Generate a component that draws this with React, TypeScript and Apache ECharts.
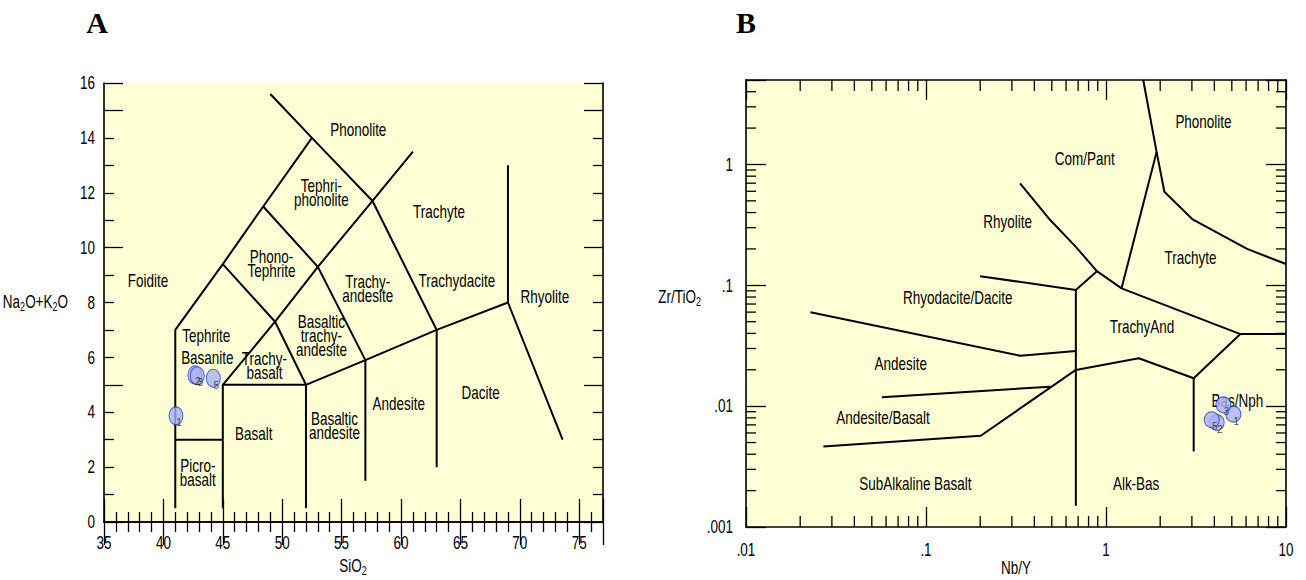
import React, { useEffect, useRef } from "react";
import * as echarts from "echarts";

// ---------- Panel A: TAS diagram ----------
const tasBoundaries: [number, number][][] = [
  [[41, 0.5], [41, 7], [45, 9.4], [48.4, 11.5], [52.5, 14], [49, 15.6]],
  [[41, 3], [45, 3]],
  [[45, 0.5], [45, 5], [49.4, 7.3], [53, 9.3], [57.6, 11.7], [61, 13.5]],
  [[45, 5], [52, 5], [57, 5.9], [63, 7], [69, 8], [69, 13]],
  [[52, 0.5], [52, 5], [49.4, 7.3], [45, 9.4]],
  [[57, 1.5], [57, 5.9], [53, 9.3], [48.4, 11.5]],
  [[63, 2], [63, 7], [57.6, 11.7], [52.5, 14]],
  [[69, 8], [73.6, 3]],
];
const tasFieldNames = [
  "Phonolite", "Tephri-\nphonolite", "Trachyte", "Phono-\nTephrite", "Foidite",
  "Trachy-\nandesite", "Trachydacite", "Rhyolite", "Tephrite", "Basanite",
  "Trachy-\nbasalt", "Basaltic\ntrachy-\nandesite", "Dacite", "Andesite",
  "Basaltic\nandesite", "Basalt", "Picro-\nbasalt",
];
const tasFieldX = [56.4, 53.3, 63.2, 49.1, 38.7, 57.2, 64.7, 72.1, 43.6, 43.7, 48.5, 53.3, 66.7, 59.8, 54.4, 47.6, 42.9];
const tasFieldY = [14.3, 12.0, 11.3, 9.4, 8.8, 8.5, 8.8, 8.2, 6.8, 6.0, 5.7, 6.8, 4.7, 4.3, 3.5, 3.2, 1.8];
const aXTicks = [35, 40, 45, 50, 55, 60, 65, 70, 75];
const aXTickLabels = ["35", "40", "45", "50", "55", "60", "65", "70", "75"];
const aYTicks = [0, 2, 4, 6, 8, 10, 12, 14, 16];
const aYTickLabels = ["0", "2", "4", "6", "8", "10", "12", "14", "16"];

// ---------- Panel B: Zr/TiO2 vs Nb/Y ----------
const wfBoundaries: [number, number][][] = [
  [[1.61, 5], [1.91, 1.27], [2.11, 0.594], [3.03, 0.351], [6.08, 0.2], [10, 0.15]],
  [[1.91, 1.27], [1.22, 0.0944]],
  [[0.333, 0.697], [0.49, 0.347], [0.68, 0.208], [0.89, 0.131], [1.22, 0.0944], [5.58, 0.0395], [10, 0.0395]],
  [[0.2, 0.119], [0.68, 0.0915], [0.89, 0.131]],
  [[0.68, 0.0915], [0.68, 0.0015]],
  [[0.0228, 0.0598], [0.335, 0.0261], [0.68, 0.0286]],
  [[0.0569, 0.01186], [0.49, 0.0145]],
  [[0.0269, 0.00463], [0.2014, 0.00569], [0.68, 0.01995], [1.52, 0.0249], [3.07, 0.017], [5.58, 0.0395]],
  [[3.07, 0.017], [3.07, 0.00422]],
];
const wfFieldNames = [
  "Phonolite", "Com/Pant", "Rhyolite", "Trachyte", "Rhyodacite/Dacite", "TrachyAnd",
  "Andesite", "Bas/Nph", "Andesite/Basalt", "SubAlkaline Basalt", "Alk-Bas",
];
const wfFieldX = [3.48, 0.762, 0.284, 2.95, 0.15, 1.585, 0.0723, 5.37, 0.0577, 0.0873, 1.47];
const wfFieldY = [2.25, 1.12, 0.336, 0.169, 0.0791, 0.045, 0.0226, 0.01107, 0.00794, 0.00226, 0.00226];
const bXTicks = [0.01, 0.1, 1, 10];
const bXTickLabels = [".01", ".1", "1", "10"];
const bYTicks = [0.001, 0.01, 0.1, 1];
const bYTickLabels = [".001", ".01", ".1", "1"];
const bMinorX = [0.02, 0.03, 0.04, 0.05, 0.06, 0.07, 0.08, 0.09, 0.2, 0.3, 0.4, 0.5, 0.6, 0.7, 0.8, 0.9, 2, 3, 4, 5, 6, 7, 8, 9];
const bMinorY = [0.002, 0.003, 0.004, 0.005, 0.006, 0.007, 0.008, 0.009, 0.02, 0.03, 0.04, 0.05, 0.06, 0.07, 0.08, 0.09, 0.2, 0.3, 0.4, 0.5, 0.6, 0.7, 0.8, 0.9, 2, 3, 4];

// ---------- Samples ----------
const sampleIds = ["1", "2", "3", "5"];
const sampleSiO2 = [41.06, 42.65, 42.85, 44.2];
const sampleAlkali = [3.87, 5.36, 5.33, 5.24];
const sampleNbY = [5.1, 4.12, 4.49, 3.87];
const sampleZrTiO2 = [0.00859, 0.00731, 0.01026, 0.00771];

const FONT = "'Liberation Sans',Arial,sans-serif";
const BG = "#FFFFD6";
const INK = "#000";
const SQUEEZE = 0.75;
const ELLIPSE = "path://M0,10 A10,10 0 1 1 20,10 A10,10 0 1 1 0,10 Z";

const richSub = {
  n: { fontSize: 18, fontFamily: FONT, fill: INK, color: INK, lineHeight: 20 },
  s: { fontSize: 12, fontFamily: FONT, fill: INK, color: INK, lineHeight: 10, verticalAlign: "bottom" },
};

function textSeries(names: string[], xs: number[], ys: number[], xi: number, yi: number) {
  return {
    type: "custom",
    xAxisIndex: xi,
    yAxisIndex: yi,
    silent: true,
    clip: false,
    z: 3,
    data: xs.map((x, i) => [x, ys[i], i]),
    renderItem: (params: any, api: any) => {
      const p = api.coord([api.value(0), api.value(1)]);
      const idx = api.value(2);
      return {
        type: "text",
        x: p[0],
        y: p[1],
        scaleX: SQUEEZE,
        style: {
          text: names[idx],
          font: `18px ${FONT}`,
          fill: INK,
          align: "center",
          verticalAlign: "middle",
          lineHeight: 14,
        },
      };
    },
  };
}

function tickLabelSeries(vals: number[], labels: string[], isX: boolean, xi: number, yi: number, other: number, margin: number) {
  return {
    type: "custom",
    xAxisIndex: xi,
    yAxisIndex: yi,
    silent: true,
    clip: false,
    z: 6,
    data: vals.map((v, i) => (isX ? [v, other, i] : [other, v, i])),
    renderItem: (params: any, api: any) => {
      const cs = params.coordSys;
      const p = api.coord([api.value(0), api.value(1)]);
      const i = api.value(2);
      return {
        type: "text",
        x: isX ? p[0] : cs.x - margin,
        y: isX ? cs.y + cs.height + margin : p[1],
        scaleX: SQUEEZE,
        style: {
          text: labels[i],
          font: `18px ${FONT}`,
          fill: INK,
          align: isX ? "center" : "right",
          verticalAlign: isX ? "top" : "middle",
        },
      };
    },
  };
}

function minorTickSeries(vals: number[], isX: boolean, len: number) {
  return {
    type: "custom",
    xAxisIndex: 2,
    yAxisIndex: 3,
    silent: true,
    z: 4,
    clip: false,
    data: vals.map((v) => (isX ? [v, 0.01] : [0.1, v])),
    renderItem: (params: any, api: any) => {
      const cs = params.coordSys;
      const p = api.coord([api.value(0), api.value(1)]);
      const st = { stroke: INK, lineWidth: 1.3 };
      if (isX) {
        const yb = cs.y + cs.height;
        const yt = cs.y;
        return {
          type: "group",
          children: [
            { type: "line", shape: { x1: p[0], y1: yb, x2: p[0], y2: yb - len }, style: st },
            { type: "line", shape: { x1: p[0], y1: yt, x2: p[0], y2: yt + len }, style: st },
          ],
        };
      }
      const xl = cs.x;
      const xr = cs.x + cs.width;
      return {
        type: "group",
        children: [
          { type: "line", shape: { x1: xl, y1: p[1], x2: xl + len, y2: p[1] }, style: st },
          { type: "line", shape: { x1: xr, y1: p[1], x2: xr - len, y2: p[1] }, style: st },
        ],
      };
    },
  };
}

function nameText(text: string, x: number, y: number, align: string) {
  return {
    type: "text",
    x,
    y,
    scaleX: SQUEEZE,
    style: { text, rich: richSub, font: `18px ${FONT}`, fill: INK, align, verticalAlign: "middle" },
  };
}

export default function App() {
  const ref = useRef<HTMLDivElement>(null);
  useEffect(() => {
    if (!ref.current) return;
    const chart = echarts.init(ref.current, null, { renderer: "svg" });
    const axisLine = { show: true, lineStyle: { color: INK, width: 1.6 } };

    const aX = (pos: string) => ({
      type: "value",
      gridIndex: 0,
      position: pos,
      min: 35,
      max: 77,
      interval: 5,
      axisLine,
      axisTick: { show: true, inside: true, length: 23, lineStyle: { color: INK, width: 1.3 } },
      minorTick: { show: true, splitNumber: 5, length: 10, lineStyle: { color: INK, width: 1.3 } },
      axisLabel: { show: false },
      splitLine: { show: false },
    });
    const aY = (pos: string, line: boolean) => ({
      type: "value",
      gridIndex: 0,
      position: pos,
      min: 0,
      max: 16,
      interval: 5,
      axisLine: line ? axisLine : { show: false },
      axisTick: { show: true, inside: true, length: 19, lineStyle: { color: INK, width: 1.3 } },
      minorTick: { show: true, splitNumber: 5, length: 10, lineStyle: { color: INK, width: 1.3 } },
      axisLabel: { show: false },
      splitLine: { show: false },
    });
    const bLog = (pos: string, isX: boolean) => ({
      type: "log",
      logBase: 10,
      gridIndex: 1,
      position: pos,
      min: isX ? 0.01 : 0.001,
      max: isX ? 10 : 5,
      axisLine,
      axisTick: { show: true, inside: true, length: 20, lineStyle: { color: INK, width: 1.3 } },
      minorTick: { show: false },
      axisLabel: { show: false },
      splitLine: { show: false },
    });

    const lineSeries = (lines: [number, number][][], xi: number, yi: number) =>
      lines.map((pts) => ({
        type: "line",
        xAxisIndex: xi,
        yAxisIndex: yi,
        data: pts,
        symbol: "none",
        silent: true,
        z: 2,
        lineStyle: { color: INK, width: 2 },
      }));

    const sampleStyle = {
      type: "scatter",
      symbol: ELLIPSE,
      z: 5,
      itemStyle: { color: "#A9B2F6", borderColor: "#2233DD", borderWidth: 1 },
      label: {
        show: true,
        position: "inside",
        offset: [3, 7],
        fontSize: 10,
        fontFamily: FONT,
        color: "#222",
        formatter: (p: any) => p.data[2],
      },
    };

    const letter = (t: string, x: number) => ({
      type: "text",
      x,
      y: 22,
      style: { text: t, font: "bold 30px 'Liberation Serif', serif", fill: INK, align: "center", verticalAlign: "middle" },
    });

    chart.setOption({
      animation: false,
      grid: [
        { left: 104, top: 83, width: 499, height: 439, show: true, backgroundColor: BG, borderWidth: 0 },
        { left: 746, top: 80, width: 540, height: 447, show: true, backgroundColor: BG, borderWidth: 0 },
      ],
      xAxis: [aX("bottom"), aX("top"), bLog("bottom", true), bLog("top", true)],
      yAxis: [aY("left", true), aY("right", true), { ...aY("left", false), interval: 2, axisTick: { show: false }, minorTick: { show: false } }, bLog("left", false), bLog("right", false)],
      graphic: [
        letter("A", 97),
        letter("B", 746),
        nameText("{n|SiO}{s|2}", 353, 566, "center"),
        nameText("{n|Nb/Y}", 1016, 568, "center"),
        nameText("{n|Na}{s|2}{n|O+K}{s|2}{n|O}", 68, 302, "right"),
        nameText("{n|Zr/TiO}{s|2}", 701, 297, "right"),
      ],
      series: [
        ...lineSeries(tasBoundaries, 0, 0),
        ...lineSeries(wfBoundaries, 2, 3),
        textSeries(tasFieldNames, tasFieldX, tasFieldY, 0, 0),
        textSeries(wfFieldNames, wfFieldX, wfFieldY, 2, 3),
        tickLabelSeries(aXTicks, aXTickLabels, true, 0, 0, 0, 12),
        tickLabelSeries(aYTicks, aYTickLabels, false, 0, 0, 35, 9),
        tickLabelSeries(bXTicks, bXTickLabels, true, 2, 3, 0.001, 14),
        tickLabelSeries(bYTicks, bYTickLabels, false, 2, 3, 0.01, 13),
        minorTickSeries(bMinorX, true, 11),
        minorTickSeries(bMinorY, false, 10),
        {
          ...sampleStyle,
          xAxisIndex: 0,
          yAxisIndex: 0,
          symbolSize: [14, 18],
          data: sampleIds.map((id, i) => [sampleSiO2[i], sampleAlkali[i], id]),
        },
        {
          ...sampleStyle,
          xAxisIndex: 2,
          yAxisIndex: 3,
          symbolSize: [15, 16],
          data: sampleIds.map((id, i) => [sampleNbY[i], sampleZrTiO2[i], id]),
        },
      ],
    });
    return () => chart.dispose();
  }, []);
  return <div ref={ref} style={{ position: "absolute", left: 0, top: 0, width: 1306, height: 580 }} />;
}
